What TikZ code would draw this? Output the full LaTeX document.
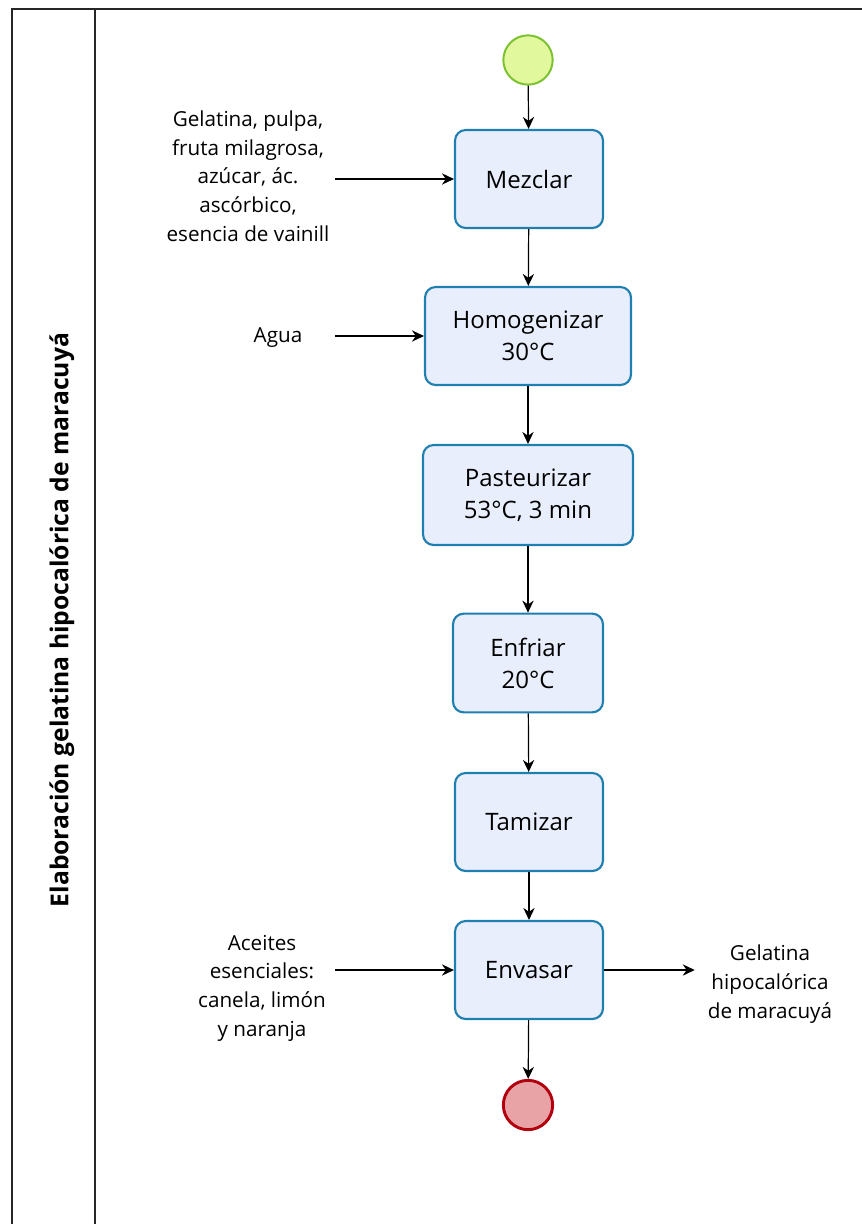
\documentclass[tikz,border=0pt]{standalone}
\usepackage{fontspec}
\setmainfont{Open Sans}
\usetikzlibrary{arrows.meta}

\definecolor{taskfill}{HTML}{E9EEFD}
\definecolor{taskline}{HTML}{1E7FB0}
\definecolor{startfill}{HTML}{E2F89C}
\definecolor{startline}{HTML}{7CC132}
\definecolor{endfill}{HTML}{E8A3A6}
\definecolor{endline}{HTML}{B3000F}

\tikzset{
  task/.style={draw=taskline, fill=taskfill, line width=1.6pt, rounded corners=8pt,
    align=center, font=\fontsize{18}{24}\selectfont},
  inp/.style={align=center, inner sep=0pt, font=\fontsize{15.5}{21.5}\selectfont},
  flow/.style={-{Stealth[length=9pt, width=8.5pt]}, line width=0.9pt},
}

\begin{document}
\begin{tikzpicture}[x=0.75pt, y=-0.75pt]
    \useasboundingbox (0,0) rectangle (862,1224);

    % pool and lane
    \draw [line width=1.2pt, black!85] (862,9) -- (12,9) -- (12,1224);
    \draw [line width=1.2pt, black!85] (95,9) -- (95,1224);
    \node [rotate=90, font=\fontsize{18.5}{22}\selectfont\bfseries] (lane) at (62,620)
      {Elaboración gelatina hipocalórica de maracuyá};

    % events
    \node [circle, draw=startline, fill=startfill, line width=1.5pt, minimum size=37pt] (st) at (528,60) {};
    \node [circle, draw=endline, fill=endfill, line width=2.2pt, minimum size=37pt] (fin) at (528,1105) {};

    % tasks
    \node [task, minimum width=111pt, minimum height=73.5pt] (mix) at (529,179) {Mezclar};
    \node [task, minimum width=154.5pt, minimum height=73.5pt] (hom) at (528,336) {Homogenizar\\30°C};
    \node [task, minimum width=157.5pt, minimum height=75pt] (pas) at (528,495) {Pasteurizar\\53°C, 3 min};
    \node [task, minimum width=112.5pt, minimum height=74pt] (enf) at (528,663) {Enfriar\\20°C};
    \node [task, minimum width=111pt, minimum height=73.5pt] (tam) at (529,822) {Tamizar};
    \node [task, minimum width=111pt, minimum height=73.5pt] (env) at (529,970) {Envasar};

    % inputs and output
    \node [inp, minimum width=130.5pt] (in1) at (248,176)
      {Gelatina, pulpa,\\fruta milagrosa,\\azúcar, ác.\\ascórbico,\\esencia de vainill};
    \node [inp, minimum width=85.5pt] (in2) at (278,338) {Agua};
    \node [inp, minimum width=109.5pt] (in3) at (262,988)
      {Aceites\\esenciales:\\canela, limón\\y naranja};
    \node [inp, minimum width=112.5pt] (out) at (770,984)
      {Gelatina\\hipocalórica\\de maracuyá};

    % sequence flow
    \foreach \a/\b in {st/mix, mix/hom, hom/pas, pas/enf, enf/tam, tam/env, env/fin}
      \draw [flow] (\a) -- (\b);

    \draw [flow] (in1.east |- mix.west) -- (mix.west);
    \draw [flow] (in2.east |- hom.west) -- (hom.west);
    \draw [flow] (in3.east |- env.west) -- (env.west);
    \draw [flow] (env.east) -- (out.west |- env.east);

  \end{tikzpicture}
\end{document}
